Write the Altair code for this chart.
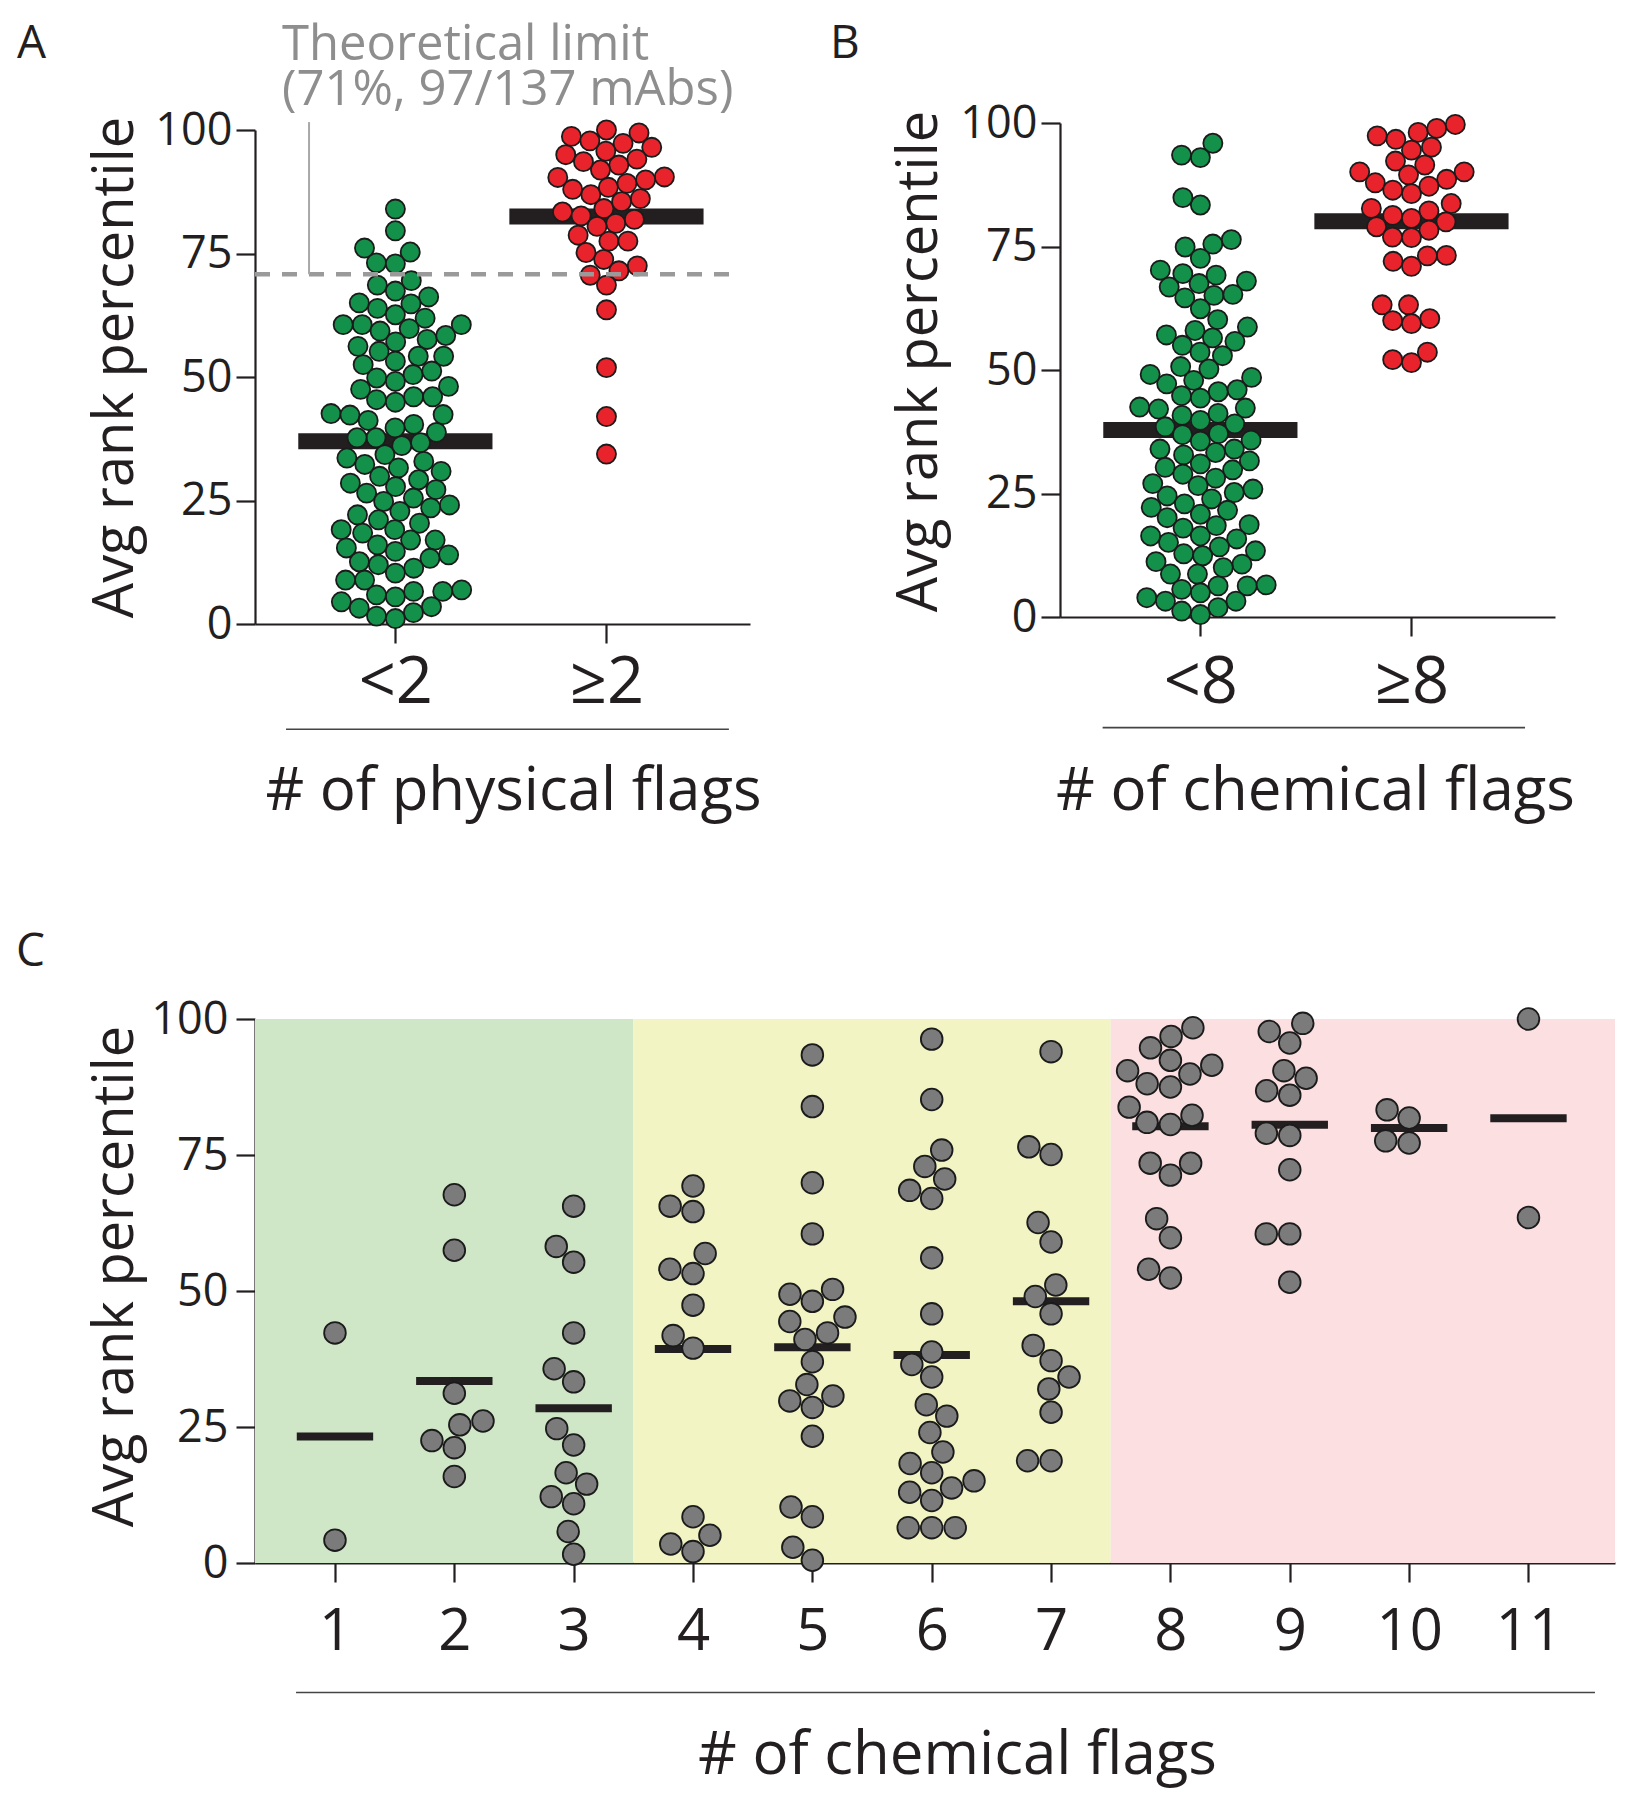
import math
import altair as alt
import pandas as pd

# ---------------- data ----------------
A_GROUPS = ["<2", "≥2"]
A_LOW = [84.0, 79.6, 76.1, 75.3, 73.1, 72.9, 69.5, 68.6, 67.4, 66.2, 64.8, 63.9, 65.0, 61.9, 62.6,
         60.6, 59.3, 57.6, 58.4, 60.6, 59.8, 60.6, 57.1,
         53.2, 52.5, 54.2, 56.2, 55.2, 54.2,
         49.8, 50.5, 51.2, 49.1, 48.1, 47.5, 45.4, 44.9, 46.0, 46.0,
         42.6, 42.4, 42.3, 41.2, 40.4, 39.7, 38.8, 37.7, 36.7, 37.7, 36.1,
         33.6, 34.3, 32.3, 32.9, 30.9, 31.6, 29.2, 29.9, 27.8, 28.5, 26.5, 27.2,
         24.8, 25.5, 23.5, 24.1, 22.1, 22.8, 20.4, 21.1, 19.1, 19.1, 18.4, 17.0, 16.0, 17.0,
         15.4, 14.0, 14.7, 13.3, 12.6, 12.0, 11.3, 8.9, 10.3, 8.9,
         6.9, 5.5, 6.6, 5.9, 6.6, 4.5, 3.2, 3.5, 2.3, 1.6, 1.1]
A_HIGH = [99.4, 95.0, 90.5, 84.1, 90.4, 86.1, 81.1, 70.6, 97.3, 92.9, 88.0, 83.4, 78.7, 73.8,
          96.5, 91.9, 86.9, 77.5, 71.5, 63.6, 51.9, 42.0, 34.4, 100.0, 95.7, 88.4, 82.6, 77.5,
          72.5, 98.7, 94.1, 89.9, 85.5, 80.5, 75.2, 68.6, 97.8, 93.6, 89.2, 81.9]

B_GROUPS = ["<8", "≥8"]
B_LOW = [93.0, 95.9, 93.5, 83.4, 84.9, 74.9, 75.5, 76.4, 72.6, 70.2, 68.0, 66.8, 67.5, 69.5, 69.2,
         65.1, 65.3, 64.6, 62.4, 60.2, 58.0, 57.1, 58.7, 55.8, 55.0, 56.5, 52.9, 53.6, 50.7,
         47.9, 45.6, 47.2, 49.1, 48.5, 50.2, 44.8, 42.1, 42.5, 40.8, 42.3, 44.3, 46.0,
         39.8, 41.2, 39.1, 38.5, 36.9, 35.6, 35.8, 37.1, 34.0, 34.0, 33.3, 32.8,
         30.3, 31.0, 28.9, 29.8, 31.6, 28.1, 25.9, 26.6, 24.5, 25.2, 27.0, 23.9,
         21.6, 22.2, 20.1, 20.8, 22.9, 18.0, 16.4, 18.5, 18.7, 15.8, 15.1, 16.4,
         13.4, 14.2, 12.8, 11.2, 12.4, 10.7, 10.0, 8.7, 8.7, 6.3, 4.9, 3.9, 6.3, 5.6, 6.5,
         3.2, 3.2, 1.2, 1.9, 0.5]
B_HIGH = [98.1, 98.9, 99.7, 96.7, 97.4, 94.5, 95.1, 92.3, 89.5, 90.1, 90.1, 91.5, 88.6, 87.9,
          85.7, 87.2, 86.4, 83.7, 82.2, 80.0, 81.3, 82.7, 80.7, 79.0, 76.9, 78.3, 76.8,
          72.0, 73.2, 73.1, 71.0, 63.2, 63.2, 60.0, 60.4, 59.4, 53.6, 51.5, 52.1]

C_FLAGS = [1, 2, 3, 4, 5, 6, 7, 8, 9, 10, 11]
C1 = [42.3, 4.2]
C2 = [67.7, 57.5, 31.2, 26.1, 25.4, 22.5, 21.2, 15.9]
C3 = [65.6, 55.3, 58.2, 42.3, 35.7, 33.3, 24.7, 21.7, 14.5, 16.6, 12.2, 10.9, 5.8, 1.6]
C4 = [69.3, 64.6, 65.6, 56.9, 53.2, 54.0, 47.4, 41.8, 39.5, 8.5, 5.1, 3.5, 2.1]
C5 = [50.3, 44.4, 37.0, 32.8, 28.6, 8.5, 0.5, 93.4, 83.9, 69.9, 60.5, 48.1, 42.3, 30.7, 23.3,
      49.4, 45.2, 41.1, 29.8, 10.3, 2.9]
C6 = [96.3, 85.2, 75.9, 70.6, 72.9, 68.5, 67.0, 56.1, 45.8, 38.8, 34.2, 36.5, 29.1, 27.0, 24.0,
      20.4, 18.3, 16.6, 15.1, 13.8, 13.0, 11.5, 6.5, 6.5, 6.5]
C7 = [94.0, 75.1, 76.5, 62.6, 59.0, 51.1, 49.0, 45.8, 40.0, 37.2, 34.2, 32.0, 27.7, 18.8, 18.8]
C8 = [96.8, 98.4, 94.7, 91.5, 92.4, 89.9, 90.5, 87.5, 88.1, 83.8, 80.6, 81.0, 82.3, 73.5, 73.5,
      71.3, 63.3, 59.8, 54.0, 52.4]
C9 = [99.2, 97.7, 95.6, 90.5, 89.1, 86.0, 86.8, 78.6, 79.0, 72.3, 60.5, 60.5, 51.6]
C10 = [81.8, 77.6, 83.3, 77.2]
C11 = [100.0, 63.5]
C_SERIES = [C1, C2, C3, C4, C5, C6, C7, C8, C9, C10, C11]
ZONES = ["low", "mid", "high"]
ZONE_FLAGS = [[1, 2, 3], [4, 5, 6, 7], [8, 9, 10, 11]]
Y_TICKS = [0, 25, 50, 75, 100]

# ---------------- styling ----------------
FONT = "Open Sans"
INK = "#231f20"
GREEN = "#13904a"
RED = "#e8232b"
GREY_PT = "#7b7b7b"
NOTE = "#8e8e8e"
ZONE_COLORS = ["#cfe7c6", "#f2f4c4", "#fbdfe1"]

W_AB = 495
XD_AB = [-0.665, 1.68]
PPU_X_AB = W_AB / (XD_AB[1] - XD_AB[0])
PPU_Y_AB = 4.94
W_C, H_C = 1360, 544
XD_C = [0.33, 11.725]
PPU_X_C = W_C / (XD_C[1] - XD_C[0])
PPU_Y_C = H_C / 100.0


def swarm_offsets(values, ppu_y, diam):
    order = sorted(range(len(values)), key=lambda i: values[i])
    placed = []
    offs = [0.0] * len(values)
    for i in order:
        y = values[i] * ppu_y
        forb = []
        for yj, xj in placed:
            dy = abs(y - yj)
            if dy < diam:
                w = math.sqrt(diam * diam - dy * dy)
                forb.append((xj - w, xj + w))
        cands = [0.0] + [a for a, _ in forb] + [b for _, b in forb]
        cands.sort(key=lambda c: (abs(c), c))
        for c in cands:
            if all(not (a + 1e-6 < c < b - 1e-6) for a, b in forb):
                offs[i] = c
                break
        placed.append((y, offs[i]))
    return offs


def swarm_frame(labels, keys, series, colors, ppu_x, ppu_y, diam):
    rows = []
    for g, k, vals, col in zip(labels, keys, series, colors):
        for v, o in zip(vals, swarm_offsets(vals, ppu_y, diam)):
            rows.append({"grp": str(g), "gi": k, "value": v, "xpos": k + o / ppu_x, "fill": col})
    return pd.DataFrame(rows)


def y_axis(title_x, title_y, pad):
    return alt.Axis(values=Y_TICKS, title="Avg rank percentile", titleX=title_x, titleY=title_y,
                    titleAngle=270, titleBaseline="middle", titleAlign="center",
                    titleFontSize=56, labelFontSize=45, labelPadding=pad, tickSize=19)


def x_axis(values, title, title_x, title_y, label_pad, label_size, label_expr=None):
    kw = dict(values=values, title=title, titleX=title_x, titleY=title_y, titleBaseline="alphabetic",
              titleAlign="center", titleFontSize=60, labelFontSize=label_size, labelBaseline="alphabetic",
              labelPadding=label_pad, labelFlush=False, tickSize=19)
    if label_expr:
        kw["labelExpr"] = label_expr
    return alt.Axis(**kw)


def text_layer(df, xs, ys, xa, ya, size, color, line_height=None):
    kw = dict(align="left", baseline="alphabetic", font=FONT, fontSize=size, color=color)
    if line_height:
        kw.update(lineBreak="\n", lineHeight=line_height)
    return alt.Chart(df).mark_text(**kw).encode(
        x=alt.X("x:Q", scale=xs, axis=xa), y=alt.Y("y:Q", scale=ys, axis=ya), text="t:N")


def swarm_panel(labels, low, high, height, yrange, xtitle, xt_xy, yt_xy, label_pad,
                letter, letter_xy, underline, extra=None):
    xs = alt.Scale(domain=XD_AB, nice=False, zero=False)
    ys = alt.Scale(domain=[0, 100], range=yrange, nice=False, zero=False)
    expr = f"datum.value == 0 ? '{labels[0]}' : '{labels[1]}'"
    xa = x_axis([0, 1], xtitle, xt_xy[0], xt_xy[1], label_pad, 65, expr)
    ya = y_axis(yt_xy[0], yt_xy[1], 4)
    df = swarm_frame(labels, [0, 1], [low, high], [GREEN, RED], PPU_X_AB, PPU_Y_AB, 19.0)
    bars = alt.Chart(df).transform_aggregate(mean="mean(value)", groupby=["gi"]).transform_calculate(
        x1="datum.gi - 0.46", x2="datum.gi + 0.46").mark_rule(strokeWidth=16, color=INK).encode(
        x=alt.X("x1:Q", scale=xs, axis=xa), x2="x2:Q", y=alt.Y("mean:Q", scale=ys, axis=ya))
    pts = alt.Chart(df).mark_circle(size=365, stroke="#1b1b1b", strokeWidth=1.8, opacity=1).encode(
        x=alt.X("xpos:Q", scale=xs, axis=xa),
        y=alt.Y("value:Q", scale=ys, axis=ya),
        fill=alt.Fill("fill:N", scale=None))
    ul = alt.Chart(pd.DataFrame({"x": [underline[0]], "x2": [underline[1]], "y": [underline[2]]})).mark_rule(
        strokeWidth=1.6, color="#444444").encode(
        x=alt.X("x:Q", scale=xs, axis=xa), x2="x2:Q", y=alt.Y("y:Q", scale=ys, axis=ya))
    let = text_layer(pd.DataFrame({"x": [letter_xy[0]], "y": [letter_xy[1]], "t": [letter]}),
                     xs, ys, xa, ya, 46, INK)
    layers = [bars, pts]
    if extra:
        layers += extra(xs, ys, xa, ya)
    layers += [ul, let]
    return alt.layer(*layers).properties(width=W_AB, height=height)


TOTAL = len(A_LOW) + len(A_HIGH)
LIMIT = 100.0 * len(A_LOW) / TOTAL


def limit_layers(xs, ys, xa, ya):
    dash = alt.Chart(pd.DataFrame({"x": [-0.665], "x2": [1.605], "y": [LIMIT]})).mark_rule(
        strokeDash=[15, 12], strokeWidth=4.5, color="#9a9a9a").encode(
        x=alt.X("x:Q", scale=xs, axis=xa), x2="x2:Q", y=alt.Y("y:Q", scale=ys, axis=ya))
    conn = alt.Chart(pd.DataFrame({"x": [-0.409], "y": [LIMIT], "y2": [101.6]})).mark_rule(
        strokeWidth=2, color="#a8a8a8").encode(
        x=alt.X("x:Q", scale=xs, axis=xa), y=alt.Y("y:Q", scale=ys, axis=ya), y2="y2:Q")
    note_text = f"Theoretical limit\n({round(LIMIT)}%, {len(A_LOW)}/{TOTAL} mAbs)"
    note = text_layer(pd.DataFrame({"x": [-0.537], "y": [114.2], "t": [note_text]}),
                      xs, ys, xa, ya, 49, NOTE, line_height=45)
    return [dash, conn, note]


panel_a = swarm_panel(A_GROUPS, A_LOW, A_HIGH, 501, [501, 7], "# of physical flags", (258, 185),
                      (-140, 244), 59, "A", (-1.792, 114.6), (-0.518, 1.580, -21.3), extra=limit_layers)
panel_b = swarm_panel(B_GROUPS, B_LOW, B_HIGH, 494, [494, 0], "# of chemical flags", (255, 192),
                      (-141, 238), 66, "B", (-1.755, 113.2), (-0.463, 1.538, -22.4))

# ---------------- panel C ----------------
xs_c = alt.Scale(domain=XD_C, nice=False, zero=False)
ys_c = alt.Scale(domain=[0, 100], nice=False, zero=False)
xa_c = x_axis(C_FLAGS, "# of chemical flags", 702, 210, 67, 58)
ya_c = y_axis(-140, 257, 8)
df_c = swarm_frame(C_FLAGS, C_FLAGS, C_SERIES, [GREY_PT] * len(C_FLAGS), PPU_X_C, PPU_Y_C, 23.5)
zone_rows = []
for zi, (z, fl, col) in enumerate(zip(ZONES, ZONE_FLAGS, ZONE_COLORS)):
    lo = XD_C[0] if zi == 0 else min(fl) - 0.5
    hi = XD_C[1] if zi == len(ZONES) - 1 else max(fl) + 0.5
    zone_rows.append({"zone": z, "x": lo, "x2": hi, "y": 0, "y2": 100, "fill": col})
zones = alt.Chart(pd.DataFrame(zone_rows)).mark_rect(opacity=1).encode(
    x=alt.X("x:Q", scale=xs_c, axis=xa_c), x2="x2:Q",
    y=alt.Y("y:Q", scale=ys_c, axis=ya_c), y2="y2:Q",
    fill=alt.Fill("fill:N", scale=None))
bars_c = alt.Chart(df_c).transform_aggregate(mean="mean(value)", groupby=["gi"]).transform_calculate(
    x1="datum.gi - 0.32", x2="datum.gi + 0.32").mark_rule(strokeWidth=8, color=INK).encode(
    x=alt.X("x1:Q", scale=xs_c, axis=xa_c), x2="x2:Q", y=alt.Y("mean:Q", scale=ys_c, axis=ya_c))
pts_c = alt.Chart(df_c).mark_circle(size=470, stroke="#1b1b1b", strokeWidth=1.8, opacity=1).encode(
    x=alt.X("xpos:Q", scale=xs_c, axis=xa_c),
    y=alt.Y("value:Q", scale=ys_c, axis=ya_c),
    fill=alt.Fill("fill:N", scale=None))
ul_c = alt.Chart(pd.DataFrame({"x": [0.674], "x2": [11.557], "y": [-23.8]})).mark_rule(
    strokeWidth=1.6, color="#444444").encode(
    x=alt.X("x:Q", scale=xs_c, axis=xa_c), x2="x2:Q", y=alt.Y("y:Q", scale=ys_c, axis=ya_c))
let_c = text_layer(pd.DataFrame({"x": [-1.672], "y": [109.7], "t": ["C"]}), xs_c, ys_c, xa_c, ya_c, 46, INK)
panel_c = alt.layer(zones, bars_c, pts_c, ul_c, let_c).properties(width=W_C, height=H_C)

top = alt.hconcat(panel_a, panel_b, spacing=310, bounds="flush")
chart = alt.vconcat(top, panel_c, spacing=108).properties(
    padding={"left": 8, "top": 12, "right": 5, "bottom": 5}
).configure_view(stroke=None).configure_axis(
    grid=False, domainColor=INK, tickColor=INK, labelColor=INK, titleColor=INK,
    labelFont=FONT, titleFont=FONT, titleFontWeight="normal", domainWidth=2.2, tickWidth=2.2,
    labelOverlap=False
)

chart.save("out.html", embed_options={"renderer": "svg", "actions": False})
